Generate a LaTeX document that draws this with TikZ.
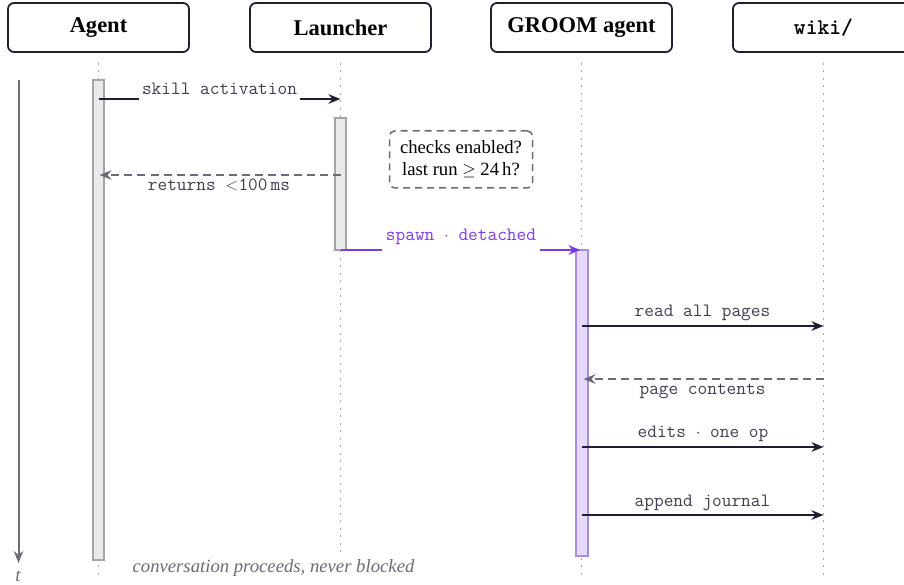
\documentclass[tikz,border=0pt]{standalone}
\usepackage{fontspec}
\setmainfont{Liberation Serif}
\usetikzlibrary{arrows.meta}
\definecolor{ink}{HTML}{1E1E38}
\definecolor{boxline}{HTML}{202030}
\definecolor{dgray}{HTML}{6B6B7B}
\definecolor{lblgray}{HTML}{3E3E50}
\definecolor{dotgray}{HTML}{A8A8A8}
\definecolor{purp}{HTML}{7C3AED}
\definecolor{purpfill}{HTML}{E4D9F8}
\definecolor{purpline}{HTML}{A78BDF}
\definecolor{barfill}{HTML}{EAEAEA}
\definecolor{barline}{HTML}{A4A4A4}
\newcommand{\hdrfont}{\fontsize{22.5bp}{26bp}\selectfont\bfseries}
\newcommand{\lblfont}{\fontsize{18.8bp}{22bp}\selectfont\ttfamily}
\newcommand{\txtfont}{\fontsize{18.7bp}{22bp}\selectfont}
\begin{document}
\begin{tikzpicture}[x=1bp,y=-1bp,
  header/.style={draw=boxline, line width=1.8bp, rounded corners=6bp, fill=white,
    minimum width=181bp, minimum height=49bp, inner sep=0pt, font=\hdrfont},
  lifeline/.style={dotgray, line width=1.8bp, dash pattern=on 1.8bp off 5.7bp},
  gbar/.style={draw=barline, fill=barfill, line width=1.5bp},
  pbar/.style={draw=purpline, fill=purpfill, line width=1.5bp},
  msg/.style={ink, line width=2.2bp, -{Stealth[length=12bp, width=9.5bp]}},
  ret/.style={dgray, line width=1.9bp, dash pattern=on 8bp off 5bp, -{Stealth[length=12bp, width=9.5bp]}},
  spawnmsg/.style={purp, line width=2.2bp, -{Stealth[length=12bp, width=9.5bp]}},
  lbl/.style={font=\lblfont, text=lblgray, anchor=base, inner sep=0pt},
  note/.style={draw=dgray, line width=1.5bp, dash pattern=on 7bp off 5bp, rounded corners=5bp,
    minimum width=143bp, minimum height=57bp, align=center, font=\txtfont, inner sep=0pt},
  caption/.style={font=\txtfont\itshape, text=dgray, anchor=base}
]
\useasboundingbox (0,0) rectangle (904,585);
\clip (0,0) rectangle (904,585);

% headers
\node[header] (agent) at (98.5,27.5) {Agent};
\node[header] (launcher) at (340.5,27.5) {Launcher};
\node[header] (groom) at (581.5,27.5) {GROOM agent};
\node[header] (wiki) at (823.5,27.5) {\ttfamily wiki/};

% lifelines
\foreach \n in {agent,launcher,groom,wiki}{
  \draw[lifeline] ([yshift=-10bp]\n.south) -- (\n.south |- 0,577);
}

% time axis
\coordinate (tTop) at (18.5,80);
\coordinate (tBot) at (18.5,563);
\draw[dgray, line width=2bp, -{Stealth[length=12bp, width=9.5bp]}] (tTop) -- (tBot);
\node[font=\txtfont\itshape, text=dgray, anchor=base] (tlbl) at (18,581.5) {t};

% activation bars
\path[gbar] (93,80) rectangle (104,560);
\path[gbar] (335,118) rectangle (346,250);
\path[pbar] (576,250) rectangle (588,556);

% coordinates on lifelines
\coordinate (a1) at (98.5,99);   \coordinate (l1) at (340.5,99);
\coordinate (l2) at (340.5,175); \coordinate (a2) at (99.5,175);
\coordinate (l3) at (340.5,250); \coordinate (g3) at (580.5,250);
\coordinate (g4) at (582,326);   \coordinate (w4) at (823.5,326);
\coordinate (w5) at (823.5,379); \coordinate (g5) at (583.5,379);
\coordinate (g6) at (582,447);   \coordinate (w6) at (823.5,447);
\coordinate (g7) at (582,515);   \coordinate (w7) at (823.5,515);

% messages
\draw[msg] (a1) -- (l1);
\node[lbl, fill=white, inner xsep=3bp, inner ysep=1bp, text depth=5bp] (lskill) at (219.5,94.3) {skill activation};

\draw[ret] (l2) -- (a2);
\node[lbl] (lret) at (219,191) {returns $<$100\,ms};

\node[note] (checks) at (461,159.5) {checks enabled?\\last run $\geq$ 24\,h?};

\draw[spawnmsg] (l3) -- (g3);
\node[lbl, text=purp, fill=white, inner xsep=3.5bp, inner ysep=1bp, text depth=9bp] (lspawn) at (461,240.7) {spawn $\cdot$ detached};

\draw[msg] (g4) -- (w4);
\node[lbl] (lread) at (702.5,316.7) {read all pages};

\draw[ret] (w5) -- (g5);
\node[lbl] (lpage) at (702.5,394) {page contents};

\draw[msg] (g6) -- (w6);
\node[lbl] (ledits) at (703,437.3) {edits $\cdot$ one op};

\draw[msg] (g7) -- (w7);
\node[lbl] (lappend) at (702.5,506) {append journal};

% caption
\node[caption, fill=white, inner xsep=2bp, inner ysep=3bp] (cap) at (273.5,572) {conversation proceeds, never blocked};
\end{tikzpicture}
\end{document}
